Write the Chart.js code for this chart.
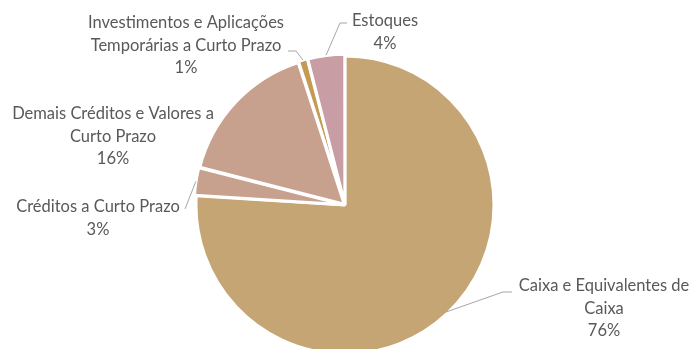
<!DOCTYPE html>
<html>
<head>
<meta charset="utf-8">
<script src="https://cdn.jsdelivr.net/npm/chart.js@4/dist/chart.umd.min.js"></script>
<style>
  html, body { margin: 0; padding: 0; background: #fff; }
  #wrap { width: 695px; height: 349px; }
</style>
</head>
<body>
<div id="wrap"><canvas id="c" width="695" height="349"></canvas></div>
<script>
// Composição do ativo circulante
const categories = [
  ['Caixa e Equivalentes de', 'Caixa'],
  ['Créditos a Curto Prazo'],
  ['Demais Créditos e Valores a', 'Curto Prazo'],
  ['Investimentos e Aplicações', 'Temporárias a Curto Prazo'],
  ['Estoques']
];
const shares = [76, 3, 16, 1, 4];
const sliceColors = ['#C6A574', '#C8A08E', '#C8A08E', '#C49B52', '#C89DA4'];
const sliceOffsets = [0, 4, 4, 4, 4];

// Label placement: text centre, first line baseline, and leader elbow (null = no leader)
const labelLayout = [
  { x: 604, y: 291, elbow: [[512, 292], [503, 292]] },
  { x: 98,  y: 212, elbow: [[185, 209]] },
  { x: 113, y: 119, elbow: null },
  { x: 186, y: 28,  elbow: [[288, 51], [296, 51]] },
  { x: 385, y: 26,  elbow: [[347, 23], [340, 23]] }
];

const calloutPlugin = {
  id: 'callouts',
  afterDatasetsDraw(chart) {
    const ctx = chart.ctx;
    const meta = chart.getDatasetMeta(0);
    ctx.save();
    ctx.font = '16.5px Lato, "Liberation Sans", sans-serif';
    ctx.fillStyle = '#595959';
    ctx.textAlign = 'center';
    ctx.textBaseline = 'alphabetic';
    const lh = 22.5;
    meta.data.forEach((arc, i) => {
      const L = labelLayout[i];
      const lines = categories[i].concat([shares[i] + '%']);
      lines.forEach((t, k) => ctx.fillText(t, L.x, L.y + k * lh));
      if (L.elbow) {
        const p = arc.getProps(['x', 'y', 'startAngle', 'endAngle', 'outerRadius'], true);
        const mid = (p.startAngle + p.endAngle) / 2;
        const off = sliceOffsets[i];
        const r = p.outerRadius - 2;
        const sx = p.x + Math.cos(mid) * (r + off);
        const sy = p.y + Math.sin(mid) * (r + off);
        ctx.beginPath();
        ctx.strokeStyle = '#A6A6A6';
        ctx.lineWidth = 1;
        ctx.moveTo(sx, sy);
        L.elbow.slice().reverse().forEach(pt => ctx.lineTo(pt[0], pt[1]));
        ctx.stroke();
      }
    });
    ctx.restore();
  }
};

new Chart(document.getElementById('c'), {
  type: 'pie',
  data: {
    labels: categories.map(c => c.join(' ')),
    datasets: [{
      data: shares,
      backgroundColor: sliceColors,
      borderColor: '#ffffff',
      borderWidth: 3,
      offset: sliceOffsets,
      radius: 149,
      clip: false
    }]
  },
  options: {
    responsive: false,
    animation: false,
    layout: { padding: { top: 61, bottom: 0, left: 0, right: 5 } },
    plugins: {
      legend: { display: false },
      tooltip: { enabled: false }
    }
  },
  plugins: [calloutPlugin]
});
</script>
</body>
</html>
